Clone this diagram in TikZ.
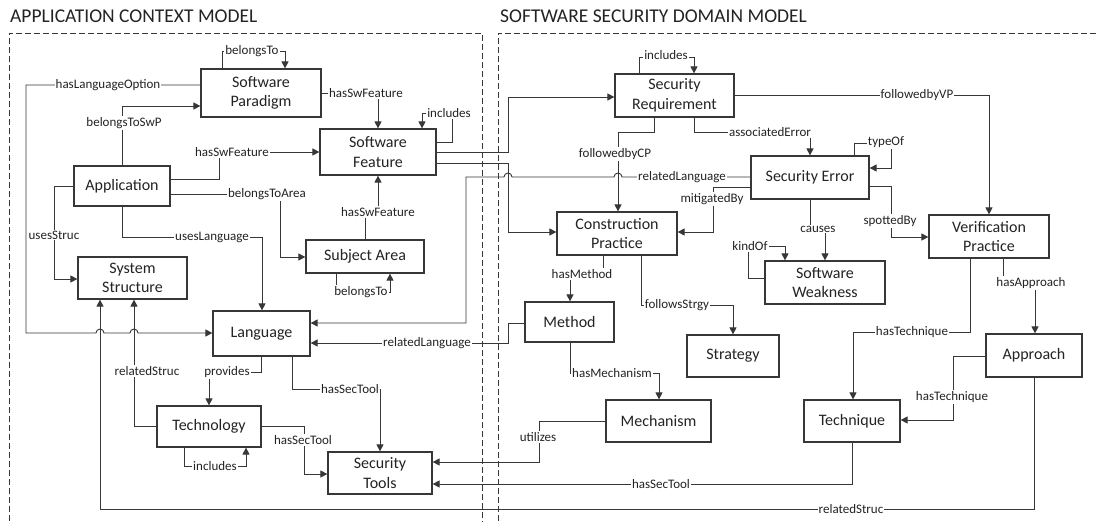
\documentclass[tikz,border=0pt]{standalone}
\usepackage{fontspec}
\setmainfont{Carlito}
\usetikzlibrary{arrows.meta}
\definecolor{ln}{RGB}{55,55,55}
\definecolor{tx}{RGB}{35,35,35}
\begin{document}
\begin{tikzpicture}[x=1pt,y=-1pt,
  box/.style={draw=ln, line width=1.2pt, fill=white, text=tx, font=\fontsize{16}{19.5}\selectfont, align=center, inner sep=0pt},
  conn/.style={draw=ln, line width=0.9pt, -{Triangle[length=7pt,width=7pt]}},
  lbl/.style={fill=white, text=tx, font=\fontsize{13}{15}\selectfont, inner sep=1pt},
  frame/.style={draw=ln, line width=0.9pt, dash pattern=on 6pt off 3pt},
  ttl/.style={text=tx, font=\fontsize{19.5}{22}\selectfont, anchor=base west, inner sep=0pt}
]
\useasboundingbox (0,0) rectangle (1096,522);
% titles
\node[ttl] (t1) at (10,23) {APPLICATION CONTEXT MODEL};
\node[ttl] (t2) at (500,23) {SOFTWARE SECURITY DOMAIN MODEL};
% frames
\draw[frame] (9,530) -- (9,33) -- (482,33) -- (482,530);
\draw[frame] (498,530) -- (498,33) -- (1100,33);
% left boxes
\node[box,minimum width=120pt,minimum height=48pt] (sp) at (261,93) {Software\\Paradigm};
\node[box,minimum width=116pt,minimum height=46pt] (sf) at (378,152) {Software\\Feature};
\node[box,minimum width=96pt,minimum height=40pt] (app) at (122,186) {Application};
\node[box,minimum width=109pt,minimum height=42pt] (sys) at (132.5,278) {System\\Structure};
\node[box,minimum width=118pt,minimum height=33pt] (sa) at (365,256.5) {Subject Area};
\node[box,minimum width=97pt,minimum height=45pt] (lang) at (261.5,333.5) {Language};
\node[box,minimum width=104pt,minimum height=41pt] (tech) at (209,426.5) {Technology};
\node[box,minimum width=104pt,minimum height=42pt] (st) at (380,473) {Security\\Tools};
% right boxes
\node[box,minimum width=119pt,minimum height=43pt] (sr) at (674.5,95.5) {Security\\Requirement};
\node[box,minimum width=118pt,minimum height=43pt] (se) at (810,177.5) {Security Error};
\node[box,minimum width=120pt,minimum height=43pt] (cp) at (617,233.5) {Construction\\Practice};
\node[box,minimum width=120pt,minimum height=43pt] (vp) at (989,236.5) {Verification\\Practice};
\node[box,minimum width=120pt,minimum height=43pt] (sw) at (825,282.5) {Software\\Weakness};
\node[box,minimum width=89pt,minimum height=40pt] (meth) at (569.5,322) {Method};
\node[box,minimum width=92pt,minimum height=42pt] (strat) at (733,356) {Strategy};
\node[box,minimum width=96pt,minimum height=43pt] (appr) at (1034,355.5) {Approach};
\node[box,minimum width=105pt,minimum height=42pt] (mech) at (658.5,421) {Mechanism};
\node[box,minimum width=96pt,minimum height=42pt] (techq) at (852,421) {Technique};
% connectors (left)
\draw[conn] (sp.north -| 222,0) |- (285,51) -- (sp.north -| 285,0);
\draw[conn] (sp.west |- 0,85) -- (26,85) -- (26,333) -- (96,333) arc[start angle=180,end angle=0,radius=4pt] -- (130,333) arc[start angle=180,end angle=0,radius=4pt] -- (lang.west |- 0,333);
\draw[conn] (app.north) |- (sp.west |- 0,106);
\draw[conn] (sp.east |- 0,93) -| (sf.north);
\draw[conn] (sf.east |- 0,142) -| (452,113) -| (sf.north -| 422,0);
\draw[conn] (app.east |- 0,179) -| (219,152) -- (sf.west |- 0,152);
\draw[conn] (app.east |- 0,194) -| (280,257) -- (sa.west |- 0,257);
\draw[conn] (sa.north) |- (378,212) -- (sf.south);
\draw[conn] (sa.south -| 336,0) |- (390,292) -- (sa.south -| 390,0);
\draw[conn] (app.west |- 0,186) -| (54,279) -- (sys.west |- 0,279);
\draw[conn] (app.south) |- (262,237) -- (lang.north -| 262,0);
\draw[conn] (appr.south) |- (100,509) -- (sys.south -| 100,0);
\draw[conn] (tech.west) -| (sys.south -| 134,0);
\draw[conn] (lang.south) |- (209,372) -- (tech.north);
\draw[conn] (lang.south -| 292,0) |- (380,389) -- (st.north);
\draw[conn] (tech.east) -| (304,474) -- (st.west |- 0,474);
\draw[conn] (tech.south -| 184,0) |- (246,466) -- (tech.south -| 246,0);
% connectors (cross)
\draw[conn] (meth.west |- 0,323) -| (508,343) -- (lang.east |- 0,343);
\draw[conn] (se.west |- 0,177) -- (622,177) arc[start angle=0,end angle=180,radius=4pt] -- (512,177) arc[start angle=0,end angle=180,radius=4pt] -- (466,177) -- (466,323) -- (lang.east |- 0,323);
\draw[conn] (sf.east |- 0,152) -| (508,97) -- (sr.west |- 0,97);
\draw[conn] (sf.east |- 0,163) -| (508,232) -- (cp.west |- 0,232);
% connectors (right)
\draw[conn] (sr.north -| 639,0) |- (694,57) -- (sr.north -| 694,0);
\draw[conn] (sr.east |- 0,95) -| (vp.north);
\draw[conn] (sr.south -| 694,0) |- (810,132) -- (se.north);
\draw[conn] (sr.south -| 654,0) |- (618,132) -- (cp.north -| 618,0);
\draw[conn] (se.north -| 854,0) |- (891,143) |- (se.east |- 0,168);
\draw[conn] (se.west |- 0,187) -| (713,232) -- (cp.east |- 0,232);
\draw[conn] (se.south) |- (825,229) -- (sw.north);
\draw[conn] (sw.west |- 0,278) -| (748,246) -| (sw.north -| 785,0);
\draw[conn] (se.east |- 0,186) -| (891,237) -- (vp.west |- 0,237);
\draw[conn] (cp.south -| 603,0) |- (570,274) -- (meth.north -| 570,0);
\draw[conn] (cp.south -| 641,0) |- (733,305) -- (strat.north);
\draw[conn] (vp.south -| 1003,0) |- (1035,283) -- (appr.north -| 1035,0);
\draw[conn] (vp.south -| 970,0) |- (853,332) -- (techq.north -| 853,0);
\draw[conn] (meth.south -| 570,0) |- (659,373) -- (mech.north -| 659,0);
\draw[conn] (appr.west |- 0,356) -| (953,420) -- (techq.east |- 0,420);
\draw[conn] (mech.west |- 0,421) -| (539,462) -- (st.east |- 0,462);
\draw[conn] (techq.south) |- (st.east |- 0,484);
% labels
\node[lbl] (l1) at (252,51) {belongsTo};
\node[lbl] (l2) at (108,85) {hasLanguageOption};
\node[lbl] (l3) at (124,123) {belongsToSwP};
\node[lbl] (l4) at (366,93) {hasSwFeature};
\node[lbl] (l5) at (449,113) {includes};
\node[lbl] (l6) at (232,152) {hasSwFeature};
\node[lbl] (l7) at (267,194) {belongsToArea};
\node[lbl] (l8) at (378,212) {hasSwFeature};
\node[lbl] (l9) at (361,292) {belongsTo};
\node[lbl] (l10) at (54,235) {usesStruc};
\node[lbl] (l11) at (212,237) {usesLanguage};
\node[lbl] (l12) at (851,509) {relatedStruc};
\node[lbl] (l13) at (147,371) {relatedStruc};
\node[lbl] (l14) at (227,372) {provides};
\node[lbl] (l15) at (350,389) {hasSecTool};
\node[lbl] (l16) at (303,440) {hasSecTool};
\node[lbl] (l17) at (215,466) {includes};
\node[lbl] (l18) at (427,343) {relatedLanguage};
\node[lbl] (l19) at (682,177) {relatedLanguage};
\node[lbl] (l20) at (666,55) {includes};
\node[lbl] (l21) at (917,95) {followedbyVP};
\node[lbl] (l22) at (770,132) {associatedError};
\node[lbl] (l23) at (615,154) {followedbyCP};
\node[lbl] (l24) at (886,142) {typeOf};
\node[lbl] (l25) at (712,199) {mitigatedBy};
\node[lbl] (l26) at (818,229) {causes};
\node[lbl] (l27) at (750,246) {kindOf};
\node[lbl] (l28) at (890,221) {spottedBy};
\node[lbl] (l29) at (582,274) {hasMethod};
\node[lbl] (l30) at (677,305) {followsStrgy};
\node[lbl] (l31) at (1031,283) {hasApproach};
\node[lbl] (l32) at (912,332) {hasTechnique};
\node[lbl] (l33) at (612,373) {hasMechanism};
\node[lbl] (l34) at (952,397) {hasTechnique};
\node[lbl] (l35) at (538,437) {utilizes};
\node[lbl] (l36) at (661,484) {hasSecTool};
\end{tikzpicture}
\end{document}
